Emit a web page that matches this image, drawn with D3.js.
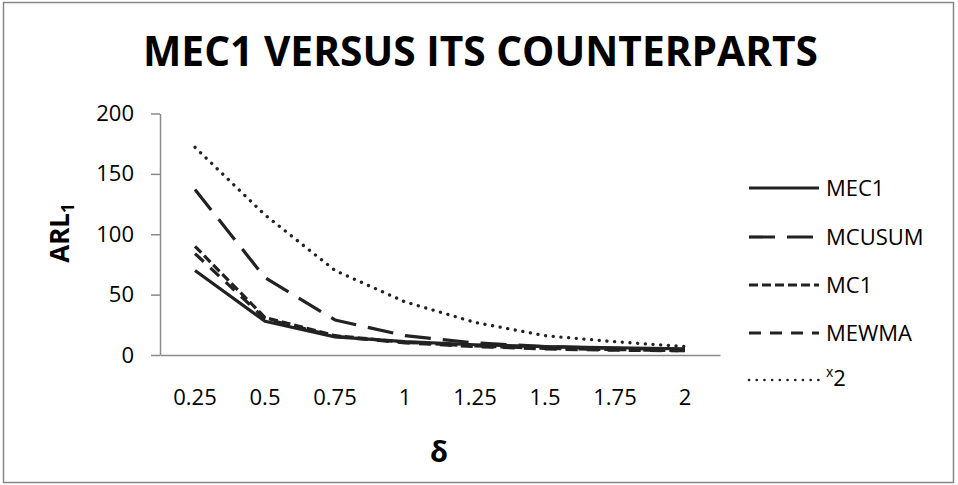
<!DOCTYPE html>
<html>
<head>
<meta charset="utf-8">
<script src="https://cdn.jsdelivr.net/npm/d3@7"></script>
<style>
  html, body { margin: 0; padding: 0; background: #fff; }
  svg { display: block; font-family: "Open Sans", sans-serif; }
</style>
</head>
<body>
<div id="chart"></div>
<script>
// chart values
var deltas = ["0.25", "0.5", "0.75", "1", "1.25", "1.5", "1.75", "2"];
var yTicks = [0, 50, 100, 150, 200];

var mec1   = [70, 28, 15, 11, 8.5, 7, 6, 5];
var mcusum = [137, 64, 29, 16, 10, 7, 5.5, 4.5];
var mc1    = [90, 31, 16, 10.5, 7.5, 5.5, 4.5, 3.5];
var mewma  = [84, 30, 15.5, 10, 7, 5, 4, 3.5];
var chi2   = [172, 116, 70, 44, 27, 16, 11, 7];

var seriesNames = ["MEC1", "MCUSUM", "MC1", "MEWMA", "x2"];

var config = {
  "width": 958,
  "height": 485,
  "ink": "#222222",
  "axis": "#8a8a8a"
};

window.addEventListener("DOMContentLoaded", main);

function main() {
  var series = [
    {name: "MEC1",   values: mec1,   dash: null,      cap: "butt"},
    {name: "MCUSUM", values: mcusum, dash: "26,12",   cap: "butt"},
    {name: "MC1",    values: mc1,    dash: "9,4",     cap: "butt"},
    {name: "MEWMA",  values: mewma,  dash: "12,9",    cap: "butt"},
    {name: "x2",     values: chi2,   dash: "0.1,7.6", cap: "round"}
  ];

  var svg = d3.select("#chart")
    .append("svg")
    .attr("width", config.width)
    .attr("height", config.height);

  // outer frame
  svg.append("rect")
    .attr("x", 3.5).attr("y", 2.5)
    .attr("width", 950).attr("height", 480)
    .attr("fill", "none")
    .attr("stroke", "#878787")
    .attr("stroke-width", 1.5);

  // title
  svg.append("text")
    .attr("x", 480.5)
    .attr("y", 66)
    .attr("text-anchor", "middle")
    .attr("font-weight", "bold")
    .attr("font-size", 42)
    .attr("textLength", 675)
    .attr("lengthAdjust", "spacingAndGlyphs")
    .text("MEC1 VERSUS ITS COUNTERPARTS");

  var plot = {left: 160, right: 720, top: 113.5, bottom: 355};

  var x = d3.scaleBand()
    .domain(deltas)
    .range([plot.left, plot.right])
    .padding(0);

  var y = d3.scaleLinear()
    .domain([0, 200])
    .range([plot.bottom, plot.top]);

  // y axis
  var yAxis = svg.append("g")
    .attr("transform", "translate(" + plot.left + ",0)")
    .call(d3.axisLeft(y).tickValues(yTicks).tickSize(9).tickSizeOuter(0).tickPadding(17));
  yAxis.select(".domain").attr("stroke", config.axis).attr("stroke-width", 1.5);
  yAxis.selectAll(".tick line").attr("stroke", config.axis).attr("stroke-width", 1.5);
  yAxis.selectAll("text")
    .attr("font-size", 22)
    .attr("font-family", "Open Sans, sans-serif")
    .attr("fill", "#000");

  // x axis
  var xAxis = svg.append("g")
    .attr("transform", "translate(0," + plot.bottom + ")")
    .call(d3.axisBottom(x).tickSize(0).tickSizeOuter(0).tickPadding(34));
  xAxis.select(".domain").attr("stroke", config.axis).attr("stroke-width", 1.5);
  xAxis.selectAll("text")
    .attr("font-size", 22)
    .attr("font-family", "Open Sans, sans-serif")
    .attr("fill", "#000");

  // axis titles
  var yTitle = svg.append("text")
    .attr("transform", "translate(69,233) rotate(-90)")
    .attr("text-anchor", "middle")
    .attr("font-weight", "bold")
    .attr("font-size", 26);
  yTitle.append("tspan").text("ARL");
  yTitle.append("tspan").attr("font-size", 17).attr("dy", 5).text("1");

  svg.append("text")
    .attr("x", 439)
    .attr("y", 462)
    .attr("text-anchor", "middle")
    .attr("font-weight", "bold")
    .attr("font-size", 29)
    .text("δ");

  // lines
  var line = d3.line()
    .x(function(d, i) { return x(deltas[i]) + x.bandwidth() / 2; })
    .y(function(d) { return y(d); });

  svg.append("g")
    .selectAll("path")
    .data(series.slice().reverse())
    .enter()
    .append("path")
    .attr("d", function(d) { return line(d.values); })
    .attr("fill", "none")
    .attr("stroke", config.ink)
    .attr("stroke-width", function(d) { return d.name == "x2" ? 3.3 : 3.2; })
    .attr("stroke-dasharray", function(d) { return d.dash; })
    .attr("stroke-linecap", function(d) { return d.cap; })
    .attr("stroke-linejoin", "round");

  // legend
  var legendY = [188, 237, 285, 333, 380];
  var legend = svg.append("g")
    .selectAll("g")
    .data(series)
    .enter()
    .append("g")
    .attr("transform", function(d, i) { return "translate(0," + legendY[i] + ")"; });

  legend.append("line")
    .attr("x1", 749).attr("x2", 819)
    .attr("y1", 0).attr("y2", 0)
    .attr("stroke", config.ink)
    .attr("stroke-width", function(d) { return d.name == "x2" ? 2.6 : 3.2; })
    .attr("stroke-dasharray", function(d) { return d.dash; })
    .attr("stroke-linecap", function(d) { return d.cap; });

  legend.each(function(d) {
    var t = d3.select(this).append("text")
      .attr("x", 826)
      .attr("y", 0)
      .attr("dy", "0.35em")
      .attr("font-size", 22);
    if (d.name == "x2") {
      t.append("tspan").attr("font-size", 14).attr("dy", "-0.25em").text("x");
      t.append("tspan").attr("dy", "0.45em").text("2");
    } else {
      t.text(d.name);
    }
  });
}
</script>
</body>
</html>
